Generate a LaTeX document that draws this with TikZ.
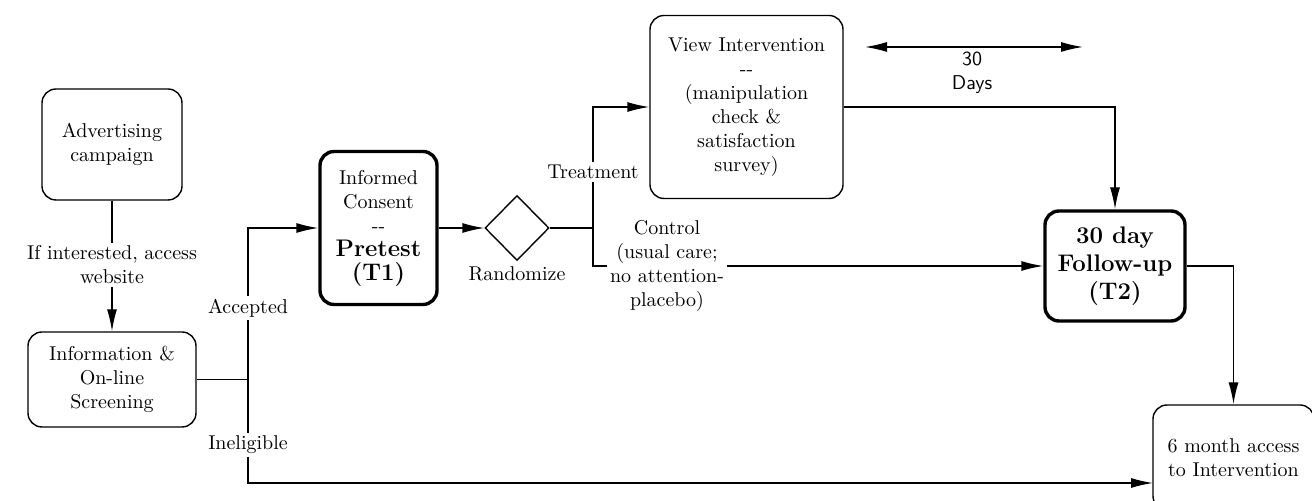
\documentclass[tikz,border=0pt]{standalone}
\usetikzlibrary{arrows.meta,shapes.geometric}
\tikzset{
  box/.style={draw,rounded corners=7pt,align=center,inner sep=2pt},
  heavybox/.style={box,line width=1.7pt},
  lbl/.style={fill=white,align=center,inner sep=1pt},
}
\begin{document}
\begin{tikzpicture}[x=0.5pt,y=-0.5pt,line width=0.7pt,>={Latex[length=11pt,width=5pt]}]
  \useasboundingbox (0,0) rectangle (1312,501);
  \node[box,minimum width=70pt,minimum height=55.5pt] (adv) at (112,144.5) {Advertising\\campaign};
  \node[lbl] (ifint) at (112,265) {If interested, access\\website};
  \node[box,minimum width=84pt,minimum height=47.5pt] (info) at (112,379.5) {Information \&\\On-line\\Screening};
  \node[heavybox,minimum width=58.5pt,minimum height=76.5pt] (consent) at (378.5,228)
    {Informed\\Consent\\-{}-\\{\large\bfseries Pretest}\\{\large\bfseries (T1)}};
  \node[draw,diamond,shape aspect=1,inner sep=0pt,minimum width=32pt,minimum height=32.5pt] (rand) at (517,228) {};
  \node (randlbl) at (517,274) {Randomize};
  \node[box,minimum width=96.5pt,minimum height=91.5pt] (view) at (746.5,107)
    {View Intervention\\-{}-\\(manipulation\\check \&\\satisfaction\\survey)};
  \node[heavybox,minimum width=70pt,minimum height=55pt,font=\large\bfseries] (follow) at (1115,266)
    {30 day\\Follow-up\\(T2)};
  \node[box,minimum width=80.5pt,minimum height=52.5pt] (six) at (1233.5,457.5) {6 month access\\to Intervention};
  \node[lbl] (acc) at (248,308) {Accepted};
  \node[lbl] (inel) at (248,445) {Ineligible};
  \node[lbl] (treat) at (593,172) {Treatment};
  \node[lbl] (ctrl) at (667,266) {Control\\(usual care;\\no attention-\\placebo)};
  \node[align=center,font=\sffamily] (days) at (972,73) {30\\Days};
  \coordinate (split) at (248,379.5);
  \coordinate (branch) at (593,228);
  \coordinate (sixin) at (1153,483);
  \coordinate (d1) at (865,47);
  \coordinate (d2) at (1083,47);

  \draw (adv) -- (ifint);
  \draw[->] (ifint) -- (info);
  \draw (info.east) -- (split);
  \draw (split) -- (acc);
  \draw[->] (acc) |- (consent.west);
  \draw (split) -- (inel);
  \draw[->] (inel) |- (sixin);
  \draw[->] (consent.east) -- (rand.west);
  \draw (rand.east) -- (branch);
  \draw (branch) -- (treat);
  \draw[->] (treat) |- (view.west);
  \draw (branch) |- (ctrl.west);
  \draw[->] (ctrl.east) -- (follow.west);
  \draw[->] (view.east) -| (follow.north);
  \draw[->] (follow.east) -| (six.north);
  \draw[<->] (d1) -- (d2);
\end{tikzpicture}
\end{document}
